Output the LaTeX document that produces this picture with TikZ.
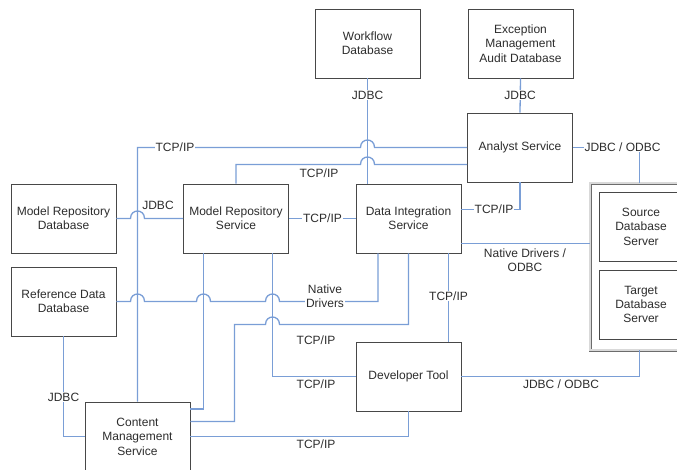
\documentclass[tikz,border=0pt]{standalone}
\usepackage{fontspec}
\setmainfont{Liberation Sans}
\definecolor{lnc}{RGB}{122,158,214}
\definecolor{boxc}{RGB}{72,72,72}
\definecolor{txt}{RGB}{45,45,45}
\newcommand\fsz{\fontsize{12}{14.4}\selectfont}
\tikzset{
  box/.style={draw=boxc, line width=0.9pt, fill=white, minimum width=105pt, minimum height=69pt, align=center, font=\fsz, text=txt, inner sep=1pt},
  conn/.style={draw=lnc, line width=1.3pt},
  lbl/.style={fill=white, inner sep=1pt, font=\fsz, text=txt, align=center},
  note/.style={inner sep=0pt, font=\fsz, text=txt, align=center},
  group/.style={draw=gray!85!black, line width=0.8pt, double=gray!30, double distance=1.4pt, fill=white},
}
\begin{document}
\begin{tikzpicture}[x=1pt,y=-1pt]
\useasboundingbox (0,0) rectangle (677,469);
% boxes
\node[box] (wf)  at (367.5,43.5) {Workflow\\Database};
\node[box] (ex)  at (520.5,43.5) {Exception\\Management\\Audit Database};
\node[box] (an)  at (520,147.5) {Analyst Service};
\node[box] (mrd) at (63.5,218.5) {Model Repository\\Database};
\node[box] (mrs) at (236,218.5) {Model Repository\\Service};
\node[box] (dis) at (408.5,218.5) {Data Integration\\Service};
\node[box] (rdd) at (63.5,301.5) {Reference Data\\Database};
\node[box] (cms) at (137.5,436.5) {Content\\Management\\Service};
\node[box] (dev) at (408.5,376.5) {Developer Tool};
\node[group, minimum width=99pt, minimum height=167pt] (srv) at (639.5,266.5) {};
\node[box, minimum width=84pt] (src) at (641,226.5) {Source\\Database\\Server};
\node[box, minimum width=84pt] (tgt) at (641,304.5) {Target\\Database\\Server};
% connectors
\draw[conn] (wf.south) -- (wf.south |- dis.north);
\draw[conn] (ex.south) -- (an.north);
\draw[conn] (an.west) -- (374.5,147.5) .. controls (374.5,137.5) and (360.5,137.5) .. (360.5,147.5) -- (137.5,147.5) -- (cms.north);
\draw[conn] ([yshift=-17pt]an.west) -- (374.5,164.5) .. controls (374.5,154.5) and (360.5,154.5) .. (360.5,164.5) -- (236,164.5) -- (mrs.north);
\draw[conn] (mrd.east) -- (130.5,218.5) .. controls (130.5,208.5) and (144.5,208.5) .. (144.5,218.5) -- (mrs.west);
\draw[conn] (mrs.east) -- (dis.west);
\draw[conn] ([yshift=9pt]dis.east) -| (an.south);
\coordinate (d8) at ([yshift=-25pt]dis.east);
\draw[conn] (d8) -- (d8 -| srv.west);
\draw[conn] (an.east) -| (srv.north);
\draw[conn] (rdd.east) -- (130.5,301.5) .. controls (130.5,291.5) and (144.5,291.5) .. (144.5,301.5)
  -- (196.5,301.5) .. controls (196.5,291.5) and (210.5,291.5) .. (210.5,301.5)
  -- (265.5,301.5) .. controls (265.5,291.5) and (279.5,291.5) .. (279.5,301.5)
  -- (378,301.5) -- ([xshift=-30.5pt]dis.south);
\draw[conn] ([xshift=-32.5pt]mrs.south) |- ([yshift=27.5pt]cms.east);
\draw[conn] ([xshift=36.5pt]mrs.south) |- (dev.west);
\draw[conn] (dis.south) -- (408.5,324.5) -- (279.5,324.5) .. controls (279.5,314.5) and (265.5,314.5) .. (265.5,324.5) -- (234.5,324.5) |- ([yshift=15pt]cms.east);
\draw[conn] ([xshift=40pt]dis.south) -- ([xshift=40pt]dev.north);
\draw[conn] (dev.east) -| (srv.south);
\draw[conn] (dev.south) |- (cms.east);
\draw[conn] (rdd.south) |- (cms.west);
% labels on lines
\node[lbl] (l1) at (367.5,95) {JDBC};
\node[lbl] (l2) at (520,95) {JDBC};
\node[lbl] (l3) at (175,147) {TCP/IP};
\node[lbl] (l4) at (322.5,218.5) {TCP/IP};
\node[lbl] (l5) at (494,209.5) {TCP/IP};
\node[lbl] (l6) at (622.5,147) {JDBC / ODBC};
\node[lbl] (l7) at (325,296) {Native\\Drivers};
\node[lbl] (l8) at (448.5,296) {TCP/IP};
\node[lbl] (l9) at (63.5,397) {JDBC};
% labels beside lines
\node[note] (n1) at (319,173) {TCP/IP};
\node[note] (n2) at (158,205) {JDBC};
\node[note] (n3) at (525,260) {Native Drivers /\\ODBC};
\node[note] (n4) at (316,340) {TCP/IP};
\node[note] (n5) at (316,384) {TCP/IP};
\node[note] (n6) at (561,384) {JDBC / ODBC};
\node[note] (n7) at (316,444.5) {TCP/IP};
\end{tikzpicture}
\end{document}
